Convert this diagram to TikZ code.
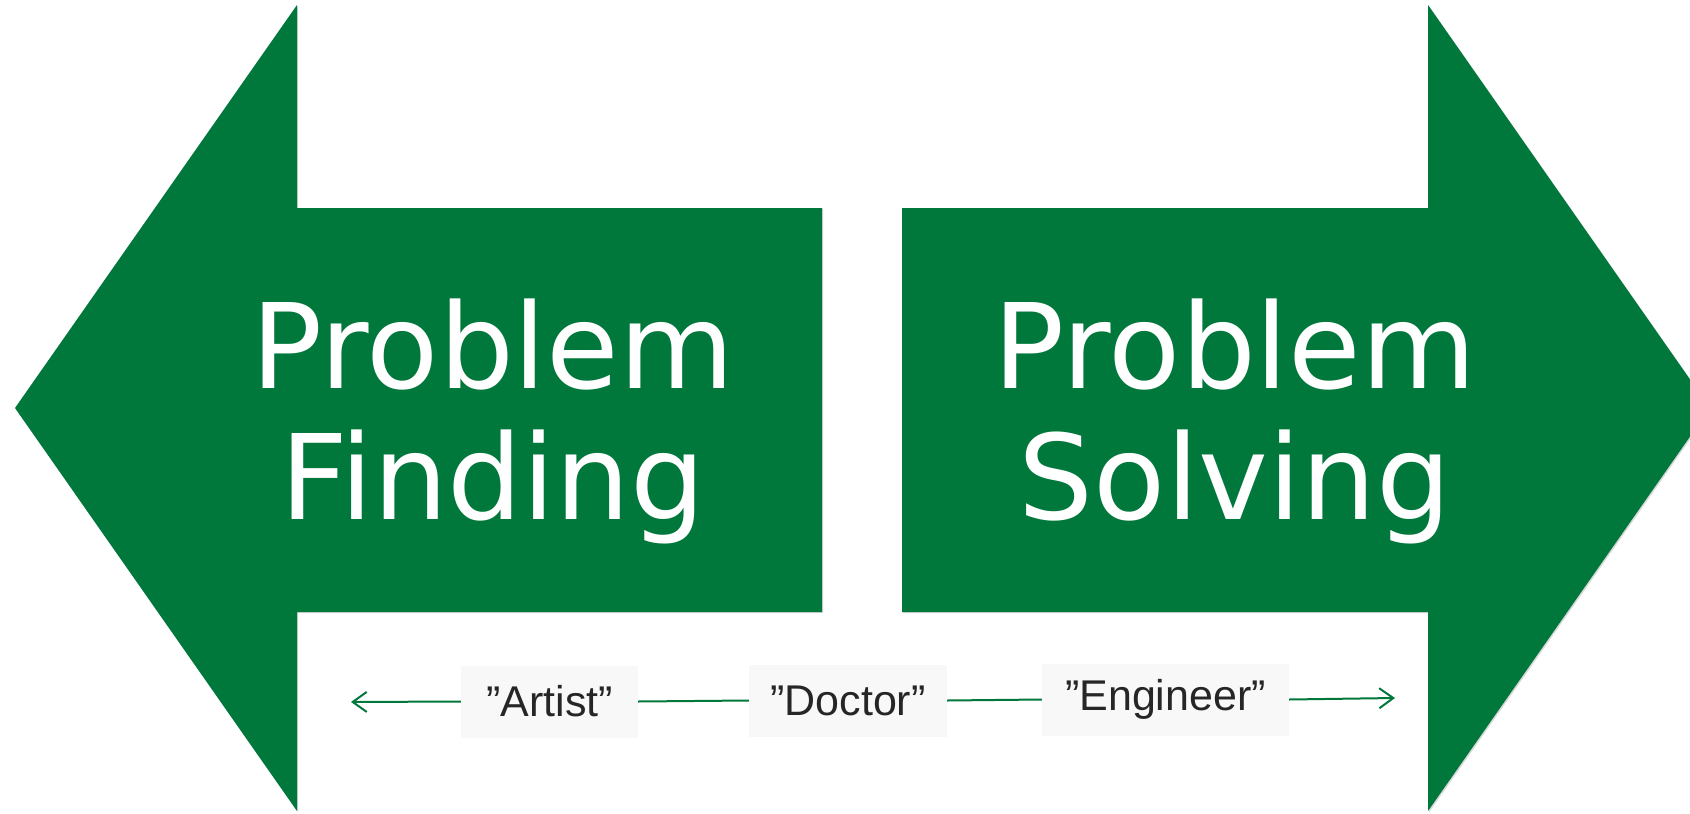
\documentclass[tikz,border=0pt]{standalone}
\usepackage{fontspec}
\setmainfont{Liberation Sans}
\newfontfamily\bigfont{DejaVu Sans}
\usetikzlibrary{arrows.meta,shadows}
\definecolor{arrowgreen}{RGB}{0,119,59}
\definecolor{labelbg}{RGB}{248,248,248}
\definecolor{labeltext}{RGB}{38,38,38}
\tikzset{
  bigarrow/.style={fill=arrowgreen, draw=none, drop shadow={opacity=0.3, shadow xshift=1.2pt, shadow yshift=-1.2pt}},
  bigtext/.style={text=white, align=center, inner sep=0pt, font=\bigfont\fontsize{118}{131}\selectfont},
  rolebox/.style={fill=labelbg, text=labeltext, inner sep=0pt, minimum height=72pt, font=\fontsize{43}{50}\selectfont},
  scaleline/.style={draw=arrowgreen, line width=2pt},
  scaletip/.style={-{Straight Barb[length=14pt,width=20pt,line width=2pt]}}
}
\begin{document}
\begin{tikzpicture}[x=1pt,y=-1pt]
\useasboundingbox (0,0) rectangle (1690,814);
\fill[white] (0,0) rectangle (1690,814);
\begin{scope}
\clip (0,0) rectangle (1690,814);
\path[bigarrow] (15,408) -- (297,5) -- (297,208) -- (822,208) -- (822,612) -- (297,612) -- (297,811) -- cycle;
\path[bigarrow] (902,208) -- (1428,208) -- (1428,5) -- (1710,408) -- (1428,811) -- (1428,612) -- (902,612) -- cycle;
\end{scope}
\node[bigtext] (finding) at (493,421) {Problem\\Finding};
\node[bigtext] (solving) at (1235,421) {Problem\\Solving};

\node[rolebox, minimum width=177pt] (artist) at (549.5,701.5) {”Artist”};
\node[rolebox, minimum width=198pt] (doctor) at (848,700.5) {”Doctor”};
\node[rolebox, minimum width=247pt] (engineer) at (1165.5,699.5) {”Engineer”};
\coordinate (lefttip) at (351,702);
\coordinate (righttip) at (1395,698);
\draw[scaleline, scaletip] (artist.west) -- (lefttip);
\draw[scaleline] (artist.east) -- (doctor.west);
\draw[scaleline] (doctor.east) -- (engineer.west);
\draw[scaleline, scaletip] (engineer.east) -- (righttip);
\end{tikzpicture}
\end{document}
